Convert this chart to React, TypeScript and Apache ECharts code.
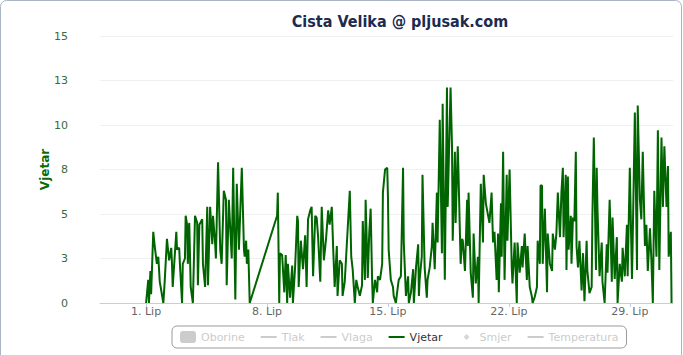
import React, { useEffect, useRef } from "react";
import * as echarts from "echarts";

const TITLE = "Cista Velika @ pljusak.com";
const Y_NAME = "Vjetar";
const MONTH = "Lip";
const tickHours = [0, 168, 336, 504, 672];
const legendNames = ["Oborine", "Tlak", "Vlaga", "Vjetar", "Smjer", "Temperatura"];

// hours since 1 June 00:00
const windHours = [
  0, 3, 4, 6, 7, 10, 12, 15, 17, 19, 24, 26, 29, 32, 35, 36, 37, 42, 43, 46, 47, 50, 51, 54, 55, 57, 58, 60, 62, 65,
  68, 71, 72, 74, 78, 79, 82, 85, 86, 89, 92, 93, 96, 97, 100, 103, 105, 108, 111, 112, 115, 119, 121, 124, 126, 129,
  133, 136, 137, 139, 140, 142, 144,
  182, 183, 185, 186, 189, 192, 194, 196, 197, 200, 203, 204, 207, 210, 211, 212, 215, 218, 221, 223, 225, 228, 230,
  232, 235, 237, 239, 242, 244, 247, 250, 253, 255, 258, 260, 262, 265, 266, 269, 272, 273, 276, 283, 285, 287, 290,
  292, 294, 297, 300, 301, 304, 305, 308, 310, 312, 314, 315, 318, 321, 322, 325, 328, 329, 332, 335, 336, 337, 340,
  343, 344, 347, 350, 351, 354, 357, 358, 361, 364, 365, 368, 371, 372, 375, 378, 379, 380, 383, 384, 387, 390, 391,
  394, 397, 398, 401, 404, 405, 408, 411, 412, 415, 418, 419, 423, 425, 426, 429, 430, 433, 434, 437, 439, 440, 443,
  446, 447, 448, 451, 454, 455, 458, 461, 462, 465, 468, 469, 472, 477, 480, 482, 484, 487, 489, 490, 493, 494, 496,
  498, 501, 502, 505, 508, 509, 512, 515, 516, 519, 522, 523, 526, 529, 530, 533, 536, 537, 540, 543, 544, 547, 548,
  550, 551, 554, 557, 558, 561, 564, 565, 568, 570, 572, 575, 577, 579, 580, 583, 584, 586, 587, 590, 591, 593, 595,
  597, 598, 600, 602, 605, 607, 609, 612, 613, 616, 619, 620, 622, 625, 626, 627, 630, 633, 634, 637, 640, 641, 644,
  647, 648, 651, 654, 655, 658, 661, 662, 665, 668, 669, 672, 675, 676, 679, 682, 683, 686, 688, 690, 693, 695, 697,
  700, 702, 704, 706, 709, 711, 713, 716, 718, 720, 723, 725, 726, 729, 730
];

const windSpeed = [
  0, 1.3, 0, 1.8, 0.5, 4.0, 3.2, 2.2, 2.6, 1.2, 0, 1.3, 3.6, 2.4, 3.1, 2.2, 0.9, 4.0, 3.0, 3.1, 2.2, 0, 2.2, 2.5, 4.9, 4.4, 2.2, 4.5, 0.9, 0,
  4.9, 4.5, 1.0, 4.4, 4.7, 2.2, 0.9, 5.4, 1.0, 5.4, 3.3, 4.9, 3.3, 2.5, 7.9, 3.0, 2.2, 6.3, 5.8, 1.0, 5.8, 2.5, 7.6, 0.2, 6.7, 3.0,
  7.6, 3.0, 2.6, 3.5, 2.2, 3.0, 0,
  4.9, 6.2, 0, 2.8, 2.7, 0.6, 2.7, 0, 2.2, 0.3, 2.1, 0, 2.0, 4.9, 4.6, 0.9, 3.5, 1.9, 3.8, 0.9, 4.7, 5.2, 5.4,
  1.5, 4.9, 4.8, 3.7, 1.2, 5.4, 2.4, 3.6, 5.2, 4.4, 5.4, 3.0, 0.9, 3.2, 0.4, 2.4, 2.2, 0.4, 1.2, 6.3, 2.6, 1.9, 0,
  1.3, 0.9, 0.4, 1.0, 4.6, 1.3, 5.8, 1.4, 3.9, 5.3, 1.3, 0, 1.3, 0.6, 1.5, 1.3, 2.2, 6.2, 7.5, 7.6, 6.0, 3.0, 1.3,
  0.9, 0.4, 0, 1.0, 1.3, 1.5, 7.6, 3.4, 0.4, 1.5, 0, 0.6, 1.9, 0, 2.0, 3.3, 0.4, 1.3, 2.6, 7.2, 2.0, 0.3, 1.3,
  2.0, 3.2, 4.5, 1.9, 6.2, 3.4, 10.3, 2.8, 11.2, 1.3, 12.1, 5.4, 12.1, 8.8, 3.5, 8.5, 4.5, 8.8, 7.3, 2.2, 3.6, 3.5, 1.8,
  5.8, 3.2, 6.2, 1.7, 0.3, 3.9, 1.1, 2.6, 0, 6.7, 3.4, 7.2, 5.6, 4.5, 6.2, 3.4, 4.0, 1.3, 3.9, 0.6, 5.6, 2.6, 8.5,
  1.3, 7.2, 3.5, 7.5, 2.0, 1.1, 3.4, 0, 3.4, 1.7, 3.2, 2.0, 3.9, 1.3, 3.2, 0.9, 0.35, 0, 0.35, 0.9, 3.5, 2.2, 6.6,
  6.6, 2.2, 5.3, 0.6, 3.9, 2.2, 1.8, 3.9, 3.0, 3.9, 6.2, 3.7, 6.2, 7.6, 3.7, 7.2, 1.85, 7.1, 3.0, 4.9, 2.2, 4.8, 4.6,
  8.5, 3.2, 2.0, 3.5, 0.7, 2.8, 0.1, 3.5, 1.85, 0.55, 0.9, 4.8, 9.3, 1.85, 7.6, 5.4, 1.5, 3.4, 1.2, 0, 3.3, 1.7, 5.8,
  1.2, 4.8, 1.35, 3.7, 0, 2.2, 1.2, 3.1, 1.5, 4.4, 1.5, 7.6, 1.35, 3.5, 10.7, 1.85, 11.1, 5.8, 4.7, 8.5, 3.2, 4.4, 1.8,
  4.2, 2.4, 0, 6.3, 2.6, 9.7, 1.85, 9.3, 5.4, 8.8, 5.4, 7.7, 2.6, 4.0, 0
];

const LINE_ICON = "path://M0,0 M16,12 M0,5 L16,5 L16,7 L0,7 Z";
const DIAMOND_ICON = "path://M0,0 M16,12 M8,3 L11,6 L8,9 L5,6 Z";

export default function App() {
  const ref = useRef<HTMLDivElement>(null);
  useEffect(() => {
    if (!ref.current) return;
    const chart = echarts.init(ref.current, null, { renderer: "svg" });
    const font = "DejaVu Sans";
    const windData = windHours.map((h, i) => [h, windSpeed[i]]);
    chart.setOption({
      animation: false,
      backgroundColor: "#ffffff",
      textStyle: { fontFamily: font },
      title: {
        text: TITLE,
        left: 395,
        textAlign: "center",
        top: 8,
        textStyle: { fontSize: 16, fontWeight: "bold", color: "#1c2b4f", fontFamily: "DejaVu Sans Condensed" },
      },
      graphic: [
        {
          type: "rect",
          silent: true,
          shape: { x: 0.5, y: 0.5, width: 681, height: 380, r: 6 },
          style: { fill: "none", stroke: "#a9b5c4", lineWidth: 1 },
        },
      ],
      grid: { left: 100, right: 10, top: 36, bottom: 52 },
      xAxis: {
        type: "value",
        min: -64,
        max: 732,
        axisLine: { show: true, lineStyle: { color: "#C0D0E0", width: 1 } },
        axisTick: { show: true, customValues: tickHours, length: 4, lineStyle: { color: "#C0D0E0" } },
        axisLabel: {
          customValues: tickHours,
          formatter: (v: number) => `${Math.round(v / 24) + 1}. ${MONTH}`,
          color: "#666666",
          fontSize: 11,
          margin: 3,
          fontFamily: font,
        },
        splitLine: { show: false },
      },
      yAxis: {
        type: "value",
        min: 0,
        max: 15,
        interval: 2.5,
        name: Y_NAME,
        nameLocation: "middle",
        nameGap: 49,
        nameMoveOverlap: false,
        nameTextStyle: { color: "#0b6a0b", fontWeight: "bold", fontSize: 12, fontFamily: font },
        axisLine: { show: false },
        axisTick: { show: false },
        axisLabel: {
          formatter: (v: number) => String(Math.round(v)),
          color: "#3a6a3a",
          fontSize: 11,
          margin: 32,
          fontFamily: font,
        },
        splitLine: { show: true, lineStyle: { color: "#f0f0f0", width: 1 } },
      },
      legend: {
        left: 172,
        top: 326,
        orient: "horizontal",
        padding: [5, 8, 5, 8],
        itemGap: 16,
        itemWidth: 16,
        itemHeight: 12,
        borderColor: "#9a9a9a",
        borderWidth: 1,
        borderRadius: 5,
        inactiveColor: "#cccccc",
        textStyle: { fontSize: 11, color: "#333333", fontFamily: font },
        selected: { Oborine: false, Tlak: false, Vlaga: false, Smjer: false, Temperatura: false },
        data: [
          { name: legendNames[0], icon: "roundRect" },
          { name: legendNames[1], icon: LINE_ICON },
          { name: legendNames[2], icon: LINE_ICON },
          { name: legendNames[3], icon: LINE_ICON },
          { name: legendNames[4], icon: DIAMOND_ICON },
          { name: legendNames[5], icon: LINE_ICON },
        ],
      },
      series: [
        { name: legendNames[0], type: "bar", data: [], itemStyle: { color: "#4572A7" } },
        { name: legendNames[1], type: "line", data: [], symbol: "none", lineStyle: { width: 2 }, color: "#AA4643" },
        { name: legendNames[2], type: "line", data: [], symbol: "none", lineStyle: { width: 2 }, color: "#89A54E" },
        {
          name: legendNames[3],
          type: "line",
          data: windData,
          symbol: "none",
          showSymbol: false,
          color: "#006400",
          lineStyle: { width: 2, color: "#006400" },
          clip: true,
        },
        { name: legendNames[4], type: "scatter", data: [], symbol: "diamond", color: "#80699B" },
        { name: legendNames[5], type: "line", data: [], symbol: "none", lineStyle: { width: 2 }, color: "#3D96AE" },
      ],
    });
    return () => chart.dispose();
  }, []);
  return (
    <div
      ref={ref}
      style={{ position: "absolute", left: 0, top: 0, width: 683, height: 355 }}
    />
  );
}
